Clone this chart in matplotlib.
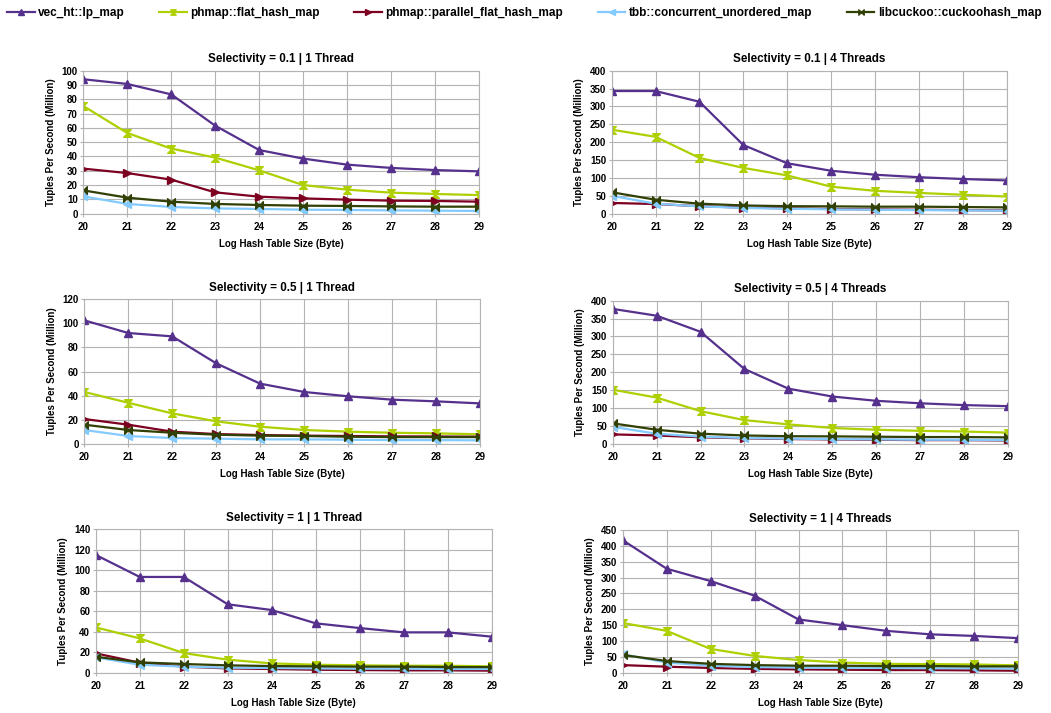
import numpy as np
import matplotlib
matplotlib.use("Agg")
import matplotlib.pyplot as plt
from matplotlib.path import Path

plt.rcParams['font.family'] = ['Liberation Sans', 'DejaVu Sans']
plt.rcParams['font.weight'] = 'bold'

# ------------------------------------ data ------------------------------------

log_sizes = [20, 21, 22, 23, 24, 25, 26, 27, 28, 29]
series_names = ["vec_ht::lp_map", "phmap::flat_hash_map", "phmap::parallel_flat_hash_map",
                "tbb::concurrent_unordered_map", "libcuckoo::cuckoohash_map"]
panel_titles = ["Selectivity = 0.1 | 1 Thread", "Selectivity = 0.1 | 4 Threads",
                "Selectivity = 0.5 | 1 Thread", "Selectivity = 0.5 | 4 Threads",
                "Selectivity = 1 | 1 Thread", "Selectivity = 1 | 4 Threads"]

# selectivity 0.1, 1 thread
s01_t1_vec = [94, 90.7, 83.4, 61.5, 44.5, 38.5, 34.3, 32, 30.5, 29.6]
s01_t1_flat = [75.3, 56.4, 45.5, 39.2, 30.3, 20, 16.8, 14.7, 13.8, 13]
s01_t1_par = [31.5, 28.4, 23.8, 14.9, 11.9, 10.7, 9.8, 9.1, 8.9, 8.4]
s01_t1_tbb = [12.1, 6.8, 4.7, 3.7, 3.3, 2.8, 2.6, 2.3, 2.1, 1.9]
s01_t1_cuckoo = [16.3, 11.2, 8.4, 6.8, 6.1, 5.6, 5.4, 5.1, 4.9, 4.9]

# selectivity 0.1, 4 threads
s01_t4_vec = [343, 343, 313, 192, 141, 120, 109, 102, 97, 93]
s01_t4_flat = [235, 215, 156, 128, 107, 75.5, 64, 58, 53, 48]
s01_t4_par = [30, 27, 21, 17, 15, 13, 12, 11, 10, 9]
s01_t4_tbb = [50, 28, 20.5, 16, 14, 12, 11, 10, 9.3, 8.4]
s01_t4_cuckoo = [60, 39, 28, 23, 21, 20.5, 19.6, 19.6, 18.6, 17.7]

# selectivity 0.5, 1 thread
s05_t1_vec = [102.5, 92, 89.2, 66.8, 49.9, 43, 39.4, 36.6, 35.2, 33.5]
s05_t1_flat = [43, 34, 25.2, 18.6, 14.1, 11.4, 10, 9.1, 8.6, 7.8]
s05_t1_par = [20.5, 15.8, 10, 8, 7.2, 6.7, 6.4, 6.1, 6, 5.8]
s05_t1_tbb = [11.4, 6.4, 4.7, 4.2, 3.6, 3.6, 3.3, 3.0, 3.0, 2.8]
s05_t1_cuckoo = [15.8, 11.4, 9.1, 7.5, 6.7, 6.4, 5.8, 5.5, 5.5, 5.5]

# selectivity 0.5, 4 threads
s05_t4_vec = [377, 358, 313, 209, 154, 132, 120, 113, 108, 105]
s05_t4_flat = [151, 129, 91, 66, 54, 44, 39, 36, 34, 31]
s05_t4_par = [26, 23, 18, 15, 13, 12, 11, 10, 10, 9]
s05_t4_tbb = [47, 28, 19.6, 16, 14, 13, 12, 11, 11, 10]
s05_t4_cuckoo = [57, 39, 28, 23, 21, 20.5, 19.6, 18.6, 18.6, 17.7]

# selectivity 1, 1 thread
s1_t1_vec = [115, 93.5, 93.5, 66.8, 61.2, 48.2, 43.6, 39.4, 39.4, 35.2]
s1_t1_flat = [44.3, 33.5, 19.2, 12.7, 9.1, 7.8, 7.2, 6.8, 6.8, 6.2]
s1_t1_par = [18.9, 9.8, 5.9, 4.2, 3.6, 2.9, 2.6, 2.3, 2.3, 2.0]
s1_t1_tbb = [15, 7.8, 5.9, 4.9, 4.6, 4.2, 3.9, 3.9, 3.6, 3.6]
s1_t1_cuckoo = [15.6, 10.1, 8.5, 7.2, 6.5, 6.2, 5.9, 5.9, 5.5, 5.5]

# selectivity 1, 4 threads
s1_t4_vec = [418, 328, 289, 243, 168, 150, 132, 121, 116, 109]
s1_t4_flat = [157, 132, 75, 53, 40, 32, 28, 27, 26, 23]
s1_t4_par = [24, 19, 15, 12, 10.5, 9.5, 8.4, 8.4, 7.4, 6.3]
s1_t4_tbb = [58, 32, 22, 18, 16, 15, 15, 14, 14, 13]
s1_t4_cuckoo = [56, 37, 28, 24, 22, 22, 21, 21, 20, 20]

panels = [
    [s01_t1_vec, s01_t1_flat, s01_t1_par, s01_t1_tbb, s01_t1_cuckoo],
    [s01_t4_vec, s01_t4_flat, s01_t4_par, s01_t4_tbb, s01_t4_cuckoo],
    [s05_t1_vec, s05_t1_flat, s05_t1_par, s05_t1_tbb, s05_t1_cuckoo],
    [s05_t4_vec, s05_t4_flat, s05_t4_par, s05_t4_tbb, s05_t4_cuckoo],
    [s1_t1_vec, s1_t1_flat, s1_t1_par, s1_t1_tbb, s1_t1_cuckoo],
    [s1_t4_vec, s1_t4_flat, s1_t4_par, s1_t4_tbb, s1_t4_cuckoo],
]
y_ticks = [np.arange(0, 101, 10), np.arange(0, 401, 50),
           np.arange(0, 121, 20), np.arange(0, 401, 50),
           np.arange(0, 141, 20), np.arange(0, 451, 50)]

# ------------------------------------ style ------------------------------------

hourglass = Path([(-1, 1), (1, 1), (-1, -1), (1, -1), (-1, 1)],
                 [Path.MOVETO, Path.LINETO, Path.LINETO, Path.LINETO, Path.CLOSEPOLY])
bowtie = Path([(-1, 1), (-1, -1), (1, 1), (1, -1), (-1, 1)],
              [Path.MOVETO, Path.LINETO, Path.LINETO, Path.LINETO, Path.CLOSEPOLY])

colors = ["#55308d", "#aecf00", "#7e0021", "#83caff", "#314004"]
markers = ["^", hourglass, ">", "<", bowtie]

# axes rectangles [left, bottom, width, height] in figure fraction
rects = [[0.0793, 0.7003, 0.3765, 0.2006], [0.5820, 0.7003, 0.3758, 0.2006],
         [0.0802, 0.3777, 0.3765, 0.2025], [0.5830, 0.3777, 0.3758, 0.2006],
         [0.0911, 0.0565, 0.3768, 0.2011], [0.5925, 0.0565, 0.3764, 0.2001]]

fig = plt.figure(figsize=(10.51, 7.13), dpi=100)

for i, (rect, vals) in enumerate(zip(rects, panels)):
    ax = fig.add_axes(rect)
    for name, ys, c, m in zip(series_names, vals, colors, markers):
        ax.plot(log_sizes, ys, color=c, marker=m, markersize=5.5, linewidth=1.6, label=name)
    ax.set_xlim(20, 29)
    ax.set_ylim(0, y_ticks[i][-1])
    ax.set_xticks(log_sizes)
    ax.set_yticks(y_ticks[i])
    ax.grid(True, color="#b3b3b3", linewidth=0.8)
    ax.set_axisbelow(True)
    for s in ax.spines.values():
        s.set_color("#b3b3b3")
    ax.tick_params(labelsize=7, length=2, color="#b3b3b3", pad=2)
    ax.tick_params(axis='x', pad=4)
    ax.set_title(panel_titles[i], fontsize=8.4, fontweight='bold', pad=6)
    ax.set_xlabel("Log Hash Table Size (Byte)", fontsize=7, fontweight='bold', labelpad=5)
    ax.set_ylabel("Tuples Per Second (Million)", fontsize=7, fontweight='bold', labelpad=4)
    if i == 0:
        handles, labels = ax.get_legend_handles_labels()

fig.legend(handles, labels, loc='upper left', bbox_to_anchor=(0.0, 1.0), ncol=5,
           frameon=False, fontsize=8.5, columnspacing=2.9, handlelength=2.35,
           handletextpad=0.3, borderaxespad=0.2, borderpad=0.4, markerscale=0.7)

fig.savefig("out.png", dpi=100)
